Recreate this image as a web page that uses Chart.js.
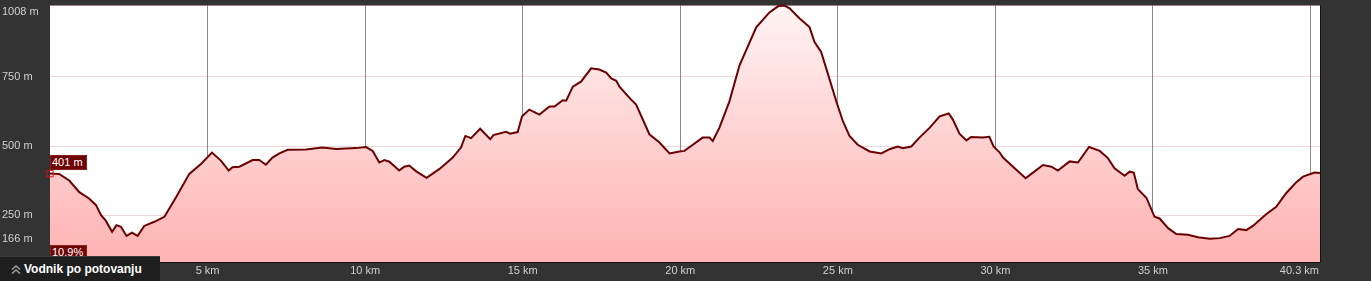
<!DOCTYPE html>
<html lang="sl">
<head>
    <meta charset="UTF-8">
    <title>Višinski profil</title>
    <script src="https://cdn.jsdelivr.net/npm/chart.js"></script>
    <style>
        body {
            margin: 0;
            padding: 0;
            background: #333333;
            font-family: 'Liberation Sans', Arial, sans-serif;
            overflow: hidden;
        }

        .wrap {
            position: relative;
            width: 1371px;
            height: 281px;
        }

        /* value boxes on the left edge */
        .tag {
            position: absolute;
            background: #6e0505;
            border: 1px solid #8a2020;
            color: #ffffff;
            font-size: 11px;
            line-height: 13px;
            padding: 0 3px 0 1px;
            white-space: nowrap;
        }

        /* bottom-left button */
        .guide {
            position: absolute;
            left: 0;
            top: 256px;
            width: 160px;
            height: 25px;
            background: #1f1f1f;
            border-top: 1px solid #3c3c3c;
            color: #ffffff;
            font-weight: bold;
            font-size: 12px;
            line-height: 25px;
            box-sizing: border-box;
        }

        .guide svg {
            position: absolute;
            left: 11px;
            top: 8px;
        }

        .guide .label {
            position: absolute;
            left: 24px;
        }
    </style>
</head>
<body>

<div class="wrap">
    <canvas id="profile"></canvas>
    <div class="tag" style="left:50px; top:155px;">401 m</div>
    <div class="tag" style="left:50px; top:245px;">10.9%</div>
    <div class="guide">
        <svg width="10" height="9" viewBox="0 0 10 9">
            <polyline points="1,4.5 5,1 9,4.5" fill="none" stroke="#9a9a9a" stroke-width="1.6"/>
            <polyline points="1,8.5 5,5 9,8.5" fill="none" stroke="#9a9a9a" stroke-width="1.6"/>
        </svg>
        <span class="label">Vodnik po potovanju</span>
    </div>
</div>

<script>
    // distance along the route (km) and elevation (m)
    const distKm = [
        0.00, 0.29, 0.61, 0.93, 1.24, 1.46, 1.62, 1.77, 1.97, 2.11, 2.25, 2.43, 2.60, 2.78, 2.99,
        3.31, 3.63, 4.00, 4.42, 4.79, 5.14, 5.43, 5.67, 5.79, 6.01, 6.43, 6.64, 6.85, 7.06, 7.28,
        7.54, 8.12, 8.65, 9.08, 9.71, 10.03, 10.24, 10.45, 10.61, 10.77, 11.08, 11.24, 11.40, 11.62,
        11.95, 12.36, 12.78, 13.04, 13.18, 13.36, 13.65, 13.97, 14.07, 14.47, 14.60, 14.84, 14.98,
        15.21, 15.53, 15.85, 16.01, 16.27, 16.38, 16.59, 16.85, 17.17, 17.43, 17.65, 17.81, 17.97,
        18.07, 18.44, 18.60, 19.02, 19.34, 19.66, 19.97, 20.13, 20.40, 20.71, 20.93, 21.03, 21.24,
        21.56, 21.88, 22.41, 22.83, 23.10, 23.31, 23.47, 23.78, 24.10, 24.26, 24.47, 24.68, 24.95,
        25.16, 25.37, 25.63, 26.01, 26.38, 26.64, 26.90, 27.06, 27.33, 27.59, 27.91, 28.23, 28.52,
        28.65, 28.86, 29.08, 29.23, 29.60, 29.81, 29.94, 30.13, 30.24, 30.61, 30.96, 31.14, 31.51,
        31.78, 31.98, 32.36, 32.62, 32.97, 33.31, 33.57, 33.78, 34.10, 34.26, 34.39, 34.52, 34.79,
        35.05, 35.21, 35.48, 35.74, 36.11, 36.43, 36.80, 37.12, 37.43, 37.70, 37.96, 38.17, 38.60,
        38.91, 39.23, 39.55, 39.76, 40.13, 40.30
    ];
    const elevM = [
        401, 400, 376, 334, 311, 287, 251, 231, 191, 215, 209, 176, 188, 176, 212,
        227, 245, 316, 400, 436, 477, 447, 412, 424, 426, 450, 450, 433, 459, 474,
        487, 488, 495, 490, 493, 497, 483, 441, 450, 444, 412, 426, 430, 409,
        386, 418, 459, 495, 537, 529, 563, 525, 540, 552, 545, 551, 608,
        632, 614, 643, 643, 666, 664, 715, 733, 781, 777, 766, 745, 736,
        715, 668, 650, 543, 513, 474, 481, 483, 505, 531, 531, 519, 566,
        662, 792, 929, 983, 1005, 1008, 998, 962, 930, 876, 840, 763, 662,
        590, 537, 505, 481, 474, 489, 499, 493, 499, 531, 566, 608, 618,
        596, 545, 521, 533, 531, 534, 499, 478, 459, 420, 384, 400, 432,
        426, 412, 445, 441, 497, 483, 457, 420, 393, 408, 405, 345, 314,
        245, 239, 204, 183, 180, 171, 166, 168, 176, 201, 197, 212, 255,
        281, 331, 370, 390, 405, 403
    ];

    // axis ticks
    const yTicks = [1008, 750, 500, 250, 166];
    const yLabels = ['1008 m', '750 m', '500 m', '250 m', '166 m'];
    const xTicks = [5, 10, 15, 20, 25, 30, 35, 40];
    const xLabels = ['5 km', '10 km', '15 km', '20 km', '25 km', '30 km', '35 km', '40.3 km'];

    const yMin = 81.8;
    const yMax = 1008;
    const xMax = 40.3;

    const points = distKm.map((d, i) => ({ x: d, y: elevM[i] }));

    // white plot background + custom tick labels
    const profilePlugin = {
        id: 'profilePlugin',
        beforeDraw(chart) {
            const a = chart.chartArea;
            const c = chart.ctx;
            c.save();
            c.fillStyle = '#ffffff';
            c.fillRect(a.left, a.top, a.right - a.left, a.bottom - a.top);
            c.restore();
        },
        afterDraw(chart) {
            const a = chart.chartArea;
            const c = chart.ctx;
            const ys = chart.scales.y;
            const xs = chart.scales.x;
            c.save();
            c.font = '11px "Liberation Sans", Arial, sans-serif';
            c.fillStyle = '#d0d0d0';
            c.textBaseline = 'middle';

            c.textAlign = 'left';
            yTicks.forEach((v, i) => {
                const py = Math.max(ys.getPixelForValue(v), a.top + 6);
                c.fillText(yLabels[i], 2, py);
            });

            xTicks.forEach((v, i) => {
                const last = i === xTicks.length - 1;
                c.textAlign = last ? 'right' : 'center';
                const px = last ? a.right - 1 : xs.getPixelForValue(v);
                c.fillText(xLabels[i], px, a.bottom + 8.5);
            });

            // right and bottom frame
            c.strokeStyle = '#141414';
            c.lineWidth = 1;
            c.beginPath();
            c.moveTo(a.right + 0.5, a.top);
            c.lineTo(a.right + 0.5, a.bottom + 1);
            c.moveTo(a.left, a.bottom + 0.5);
            c.lineTo(a.right + 1, a.bottom + 0.5);
            c.stroke();
            c.restore();
        }
    };

    const canvas = document.getElementById('profile');
    canvas.width = 1371;
    canvas.height = 281;

    const chart = new Chart(canvas.getContext('2d'), {
        type: 'line',
        data: {
            datasets: [{
                data: points,
                borderColor: '#6a0000',
                borderWidth: 2,
                tension: 0,
                fill: 'start',
                clip: false,
                backgroundColor: function(context) {
                    const a = context.chart.chartArea;
                    if (!a) return 'rgba(255,190,190,1)';
                    const g = context.chart.ctx.createLinearGradient(0, a.top, 0, a.bottom);
                    g.addColorStop(0, '#fff3f3');
                    g.addColorStop(1, '#ffb2b2');
                    return g;
                },
                pointRadius: ctx => ctx.dataIndex === 0 ? 4.5 : 0,
                pointStyle: 'rect',
                pointBorderColor: '#e01010',
                pointBackgroundColor: 'rgba(0,0,0,0)',
                pointBorderWidth: 1,
                pointHoverRadius: 0
            }]
        },
        options: {
            animation: false,
            responsive: false,
            events: [],
            layout: { padding: { top: 4, right: 51, left: 0, bottom: 0 } },
            plugins: {
                legend: { display: false },
                tooltip: { enabled: false }
            },
            scales: {
                x: {
                    type: 'linear',
                    min: 0,
                    max: xMax,
                    z: 1,
                    afterBuildTicks: scale => { scale.ticks = xTicks.map(v => ({ value: v })); },
                    afterFit: scale => {
                        scale.height = 19;
                        scale.paddingLeft = 0;
                        scale.paddingRight = 0;
                    },
                    ticks: { display: false },
                    grid: { color: 'rgba(0,0,0,0.45)', lineWidth: 1, drawTicks: false },
                    border: { display: false }
                },
                y: {
                    min: yMin,
                    max: yMax,
                    z: 1,
                    afterBuildTicks: scale => { scale.ticks = yTicks.map(v => ({ value: v })); },
                    afterFit: scale => {
                        scale.width = 50;
                        scale.paddingTop = 0;
                        scale.paddingBottom = 0;
                    },
                    ticks: { display: false },
                    grid: { color: 'rgba(170,60,60,0.2)', lineWidth: 1, drawTicks: false },
                    border: { display: false }
                }
            }
        },
        plugins: [profilePlugin]
    });
</script>

</body>
</html>
